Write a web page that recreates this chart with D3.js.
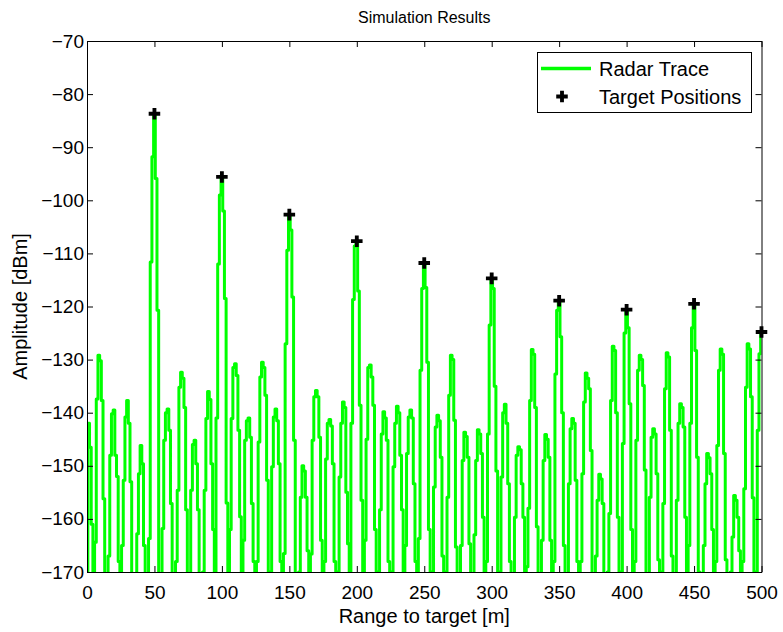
<!DOCTYPE html>
<html>
<head>
<meta charset="utf-8">
<script src="https://cdn.jsdelivr.net/npm/d3@7"></script>
<style>
  html, body { margin: 0; padding: 0; background: #fff; }
  svg { display: block; }
  text { font-family: "Liberation Sans", Arial, Helvetica, sans-serif; fill: #000; }
</style>
</head>
<body>
<svg id="chart" width="783" height="632"></svg>
<script>
// Range spacing between consecutive trace samples, in metres
const rangeStep = 1.25;

// Received amplitude per range bin [dBm]; values below -170 fall off the axis
const traceDb = [
  -250, -142, -146.5, -161, -250,
  -164.4, -137.4, -129.2, -130.2, -137.7, -156.2, -185, -250,
  -167, -148, -140.2, -139.5, -148, -152, -168, -250,
  -165, -152.7, -140.8, -137.7, -142, -153, -185, -250,
  -185, -162.8, -151.5, -146.2, -149.6, -165, -190, -250,
  -163.7, -111.6, -91.8, -83.7, -95.9, -120.7, -200, -250,
  -161.8, -145.2, -140, -139.3, -143.3, -157.1, -185, -250,
  -168, -154.6, -135.2, -132.4, -133.5, -139, -158.3, -250,
  -185, -154.6, -146, -145.2, -149.6, -158.3, -190, -250,
  -170, -154.6, -141.1, -136, -137.5, -149.6, -162, -250,
  -141, -112, -99, -95.6, -102, -118.5, -157, -250,
  -162, -141.1, -131.5, -130.8, -133, -143.3, -159.6, -250,
  -164, -145.2, -141.5, -141, -144.6, -157.1, -168, -250,
  -168, -145.5, -133.3, -130.5, -131.5, -136.7, -152.7, -250,
  -170, -150.2, -140.8, -139.3, -141.5, -149.6, -168, -250,
  -166.5, -127, -109.4, -102.7, -105.6, -118.2, -145.2, -250,
  -185, -170, -155.9, -150, -151, -155.9, -166, -250,
  -166.6, -145.2, -137, -135.8, -137, -144.6, -164, -250,
  -168, -148.7, -142, -141.3, -142.5, -149.6, -168, -250,
  -170, -152.1, -142, -138, -139, -155, -164.7, -250,
  -142, -118.7, -108.6, -107.7, -117.1, -138.6, -156.5, -250,
  -164, -145, -131.5, -131, -133.3, -138.6, -162, -250,
  -170, -158.3, -144, -139.8, -141, -145.2, -168, -250,
  -170, -150.2, -142, -138.8, -140, -148, -158.3, -250,
  -165, -147.7, -140.8, -139.5, -141, -153.4, -168, -250,
  -163.7, -132, -116.6, -111.8, -116.4, -130.5, -162, -250,
  -170, -154, -142.7, -140.5, -141.5, -148.4, -167, -250,
  -170, -155.9, -136.7, -129.2, -130, -141.4, -165.3, -250,
  -185, -165, -149, -143.7, -144.5, -148.4, -164.7, -250,
  -185, -163, -149, -143.2, -144, -147.7, -159.7, -250,
  -168, -144, -123.5, -114.7, -116.6, -135, -151, -250,
  -170, -152.1, -140, -138.4, -142, -153.4, -168, -250,
  -185, -159.7, -148, -146.4, -147, -153.4, -159.7, -250,
  -169, -158, -137.7, -128.1, -129, -139, -161.5, -250,
  -185, -164, -149, -144.1, -145, -148.4, -164, -250,
  -168, -132.7, -120.7, -118.9, -125.7, -140, -165, -250,
  -185, -153.4, -143, -141.1, -142, -152.7, -168, -250,
  -168, -151.5, -138, -132.5, -133.5, -135.5, -147.1, -250,
  -185, -167, -156.5, -151.6, -152.5, -157.1, -175, -250,
  -170, -159, -137.7, -127.5, -128.3, -140, -159.7, -250,
  -170, -145.8, -125, -120.6, -124, -138.3, -162, -250,
  -168, -145.2, -132, -129.2, -130, -134.9, -150.8, -250,
  -175, -155.9, -144.6, -143, -144, -151.5, -167.7, -250,
  -170, -157.1, -135.5, -128.7, -129.5, -143.3, -167, -250,
  -175, -156.5, -142, -138.3, -139, -142.7, -159.7, -250,
  -165, -142, -124, -119.5, -128.3, -148.4, -170, -250,
  -185, -165, -153.4, -147.7, -148.5, -151.5, -162, -250,
  -168, -146.2, -132, -128, -129, -147.7, -167.7, -250,
  -185, -170, -163.4, -155.6, -156.5, -159.7, -166, -250,
  -168, -154.3, -135.2, -127, -128, -137, -156, -250,
  -170, -143.3, -128.9, -124.8
];

// Simulated target ranges [m] and their peak amplitudes [dBm]
const targetRange = [50, 100, 150, 200, 250, 300, 350, 400, 450, 500];
const targetDb = [-83.7, -95.6, -102.7, -107.7, -111.8, -114.7, -118.9, -120.6, -119.5, -124.8];

// Axis ticks
const xTicks = [0, 50, 100, 150, 200, 250, 300, 350, 400, 450, 500];
const yTicks = [-170, -160, -150, -140, -130, -120, -110, -100, -90, -80, -70];

const plot = { left: 87, right: 761.5, top: 41, bottom: 572 };

const svg = d3.select("#chart");

const x = d3.scaleLinear().domain([0, 500]).range([plot.left, plot.right]);
const y = d3.scaleLinear().domain([-170, -70]).range([plot.bottom, plot.top]);

const fmt = d => String(d).replace("-", "\u2212");

svg.append("defs").append("clipPath").attr("id", "plot-clip")
  .append("rect")
  .attr("x", plot.left).attr("y", plot.top)
  .attr("width", plot.right - plot.left).attr("height", plot.bottom - plot.top);

// Radar trace: each range bin is held across its width
const line = d3.line()
  .x((d, i) => x(i * rangeStep))
  .y(d => y(d))
  .curve(d3.curveStep);

svg.append("path")
  .datum(traceDb)
  .attr("clip-path", "url(#plot-clip)")
  .attr("d", line)
  .attr("fill", "none")
  .attr("stroke", "#00ff00")
  .attr("stroke-width", 3)
  .attr("stroke-linejoin", "round");

// Axes box with inward ticks
function styleAxis(g) {
  g.selectAll("path.domain").attr("stroke", "#000").attr("stroke-width", 1);
  g.selectAll(".tick line").attr("stroke", "#000").attr("stroke-width", 1);
}

svg.append("g")
  .attr("transform", `translate(0,${plot.bottom})`)
  .call(d3.axisBottom(x).tickValues(xTicks).tickSize(-6).tickSizeOuter(0).tickPadding(14).tickFormat(fmt))
  .call(styleAxis)
  .call(g => g.selectAll("text").attr("font-size", 19).attr("font-family", null));

svg.append("g")
  .attr("transform", `translate(0,${plot.top})`)
  .call(d3.axisTop(x).tickValues(xTicks).tickSize(-6).tickSizeOuter(0).tickFormat(""))
  .call(styleAxis);

svg.append("g")
  .attr("transform", `translate(${plot.left},0)`)
  .call(d3.axisLeft(y).tickValues(yTicks).tickSize(-6).tickSizeOuter(0).tickPadding(3).tickFormat(fmt))
  .call(styleAxis)
  .call(g => g.selectAll("text").attr("font-size", 19).attr("font-family", null));

svg.append("g")
  .attr("transform", `translate(${plot.right},0)`)
  .call(d3.axisRight(y).tickValues(yTicks).tickSize(-6).tickSizeOuter(0).tickFormat(""))
  .call(styleAxis);

// Target markers
const cross = d3.symbol(d3.symbolCross, 74);
svg.append("g")
  .selectAll("path")
  .data(targetRange)
  .join("path")
  .attr("transform", (d, i) => `translate(${x(d)},${y(targetDb[i])})`)
  .attr("d", cross)
  .attr("fill", "#000");

// Titles
svg.append("text")
  .attr("x", (plot.left + plot.right) / 2).attr("y", 23)
  .attr("text-anchor", "middle").attr("font-size", 16)
  .text("Simulation Results");

svg.append("text")
  .attr("x", (plot.left + plot.right) / 2).attr("y", 623)
  .attr("text-anchor", "middle").attr("font-size", 20)
  .text("Range to target [m]");

svg.append("text")
  .attr("transform", `translate(27,${(plot.top + plot.bottom) / 2}) rotate(-90)`)
  .attr("text-anchor", "middle").attr("font-size", 20)
  .text("Amplitude [dBm]");

// Legend
const legend = svg.append("g");
legend.append("rect")
  .attr("x", 537.5).attr("y", 52.5).attr("width", 214).attr("height", 60)
  .attr("fill", "#fff").attr("stroke", "#000").attr("stroke-width", 1);
legend.append("line")
  .attr("x1", 541).attr("x2", 591).attr("y1", 68.5).attr("y2", 68.5)
  .attr("stroke", "#00ff00").attr("stroke-width", 3.3);
legend.append("text")
  .attr("x", 599).attr("y", 76).attr("font-size", 20).text("Radar Trace");
legend.append("path")
  .attr("transform", "translate(562,96.5)")
  .attr("d", cross)
  .attr("fill", "#000");
legend.append("text")
  .attr("x", 599).attr("y", 104).attr("font-size", 20).text("Target Positions");
</script>
</body>
</html>
